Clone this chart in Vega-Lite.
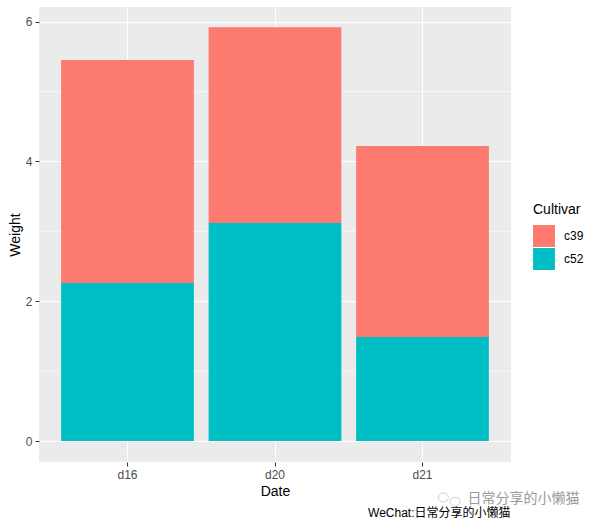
{
  "$schema": "https://vega.github.io/schema/vega-lite/v6.json",
  "width": 472,
  "height": 455,
  "padding": {"left": 39, "top": 7, "right": 87, "bottom": 64},
  "autosize": {"type": "none"},
  "background": "white",
  "view": {"fill": "#EBEBEB", "stroke": null},
  "config": {"font": "Liberation Sans, Noto Sans CJK SC"},
  "datasets": {
    "bars": [
      {"Date": "d16", "Cultivar": "c39", "Weight": 3.19},
      {"Date": "d16", "Cultivar": "c52", "Weight": 2.26},
      {"Date": "d20", "Cultivar": "c39", "Weight": 2.80},
      {"Date": "d20", "Cultivar": "c52", "Weight": 3.12},
      {"Date": "d21", "Cultivar": "c39", "Weight": 2.73},
      {"Date": "d21", "Cultivar": "c52", "Weight": 1.49}
    ],
    "minor": [{"y": 1}, {"y": 3}, {"y": 5}],
    "notes": [
      {"Date": "d21", "y": -1.03, "label": "WeChat:日常分享的小懒猫", "kind": "caption"},
      {"Date": "d21", "y": -0.83, "label": "日常分享的小懒猫", "kind": "mark"},
      {"Date": "d21", "y": -0.82, "label": "", "kind": "icon"}
    ]
  },
  "encoding": {
    "x": {
      "field": "Date",
      "type": "nominal",
      "scale": {"paddingInner": 0.1, "paddingOuter": 0.15},
      "axis": {
        "title": "Date", "titleFontSize": 14, "titleColor": "#000000", "titleFontWeight": "normal", "titlePadding": 4,
        "labelAngle": 0, "labelFontSize": 12, "labelColor": "#4D4D4D", "labelPadding": 3,
        "domain": false, "tickColor": "#333333", "tickSize": 4, "tickWidth": 1,
        "grid": true, "gridColor": "#FFFFFF", "gridWidth": 1
      }
    }
  },
  "layer": [
    {
      "data": {"name": "minor"},
      "mark": {"type": "rule", "color": "#FFFFFF", "strokeWidth": 0.6},
      "encoding": {
        "x": {"value": 0},
        "x2": {"value": 472},
        "y": {"field": "y", "type": "quantitative", "scale": {"domain": [-0.3, 6.21], "nice": false, "zero": false}}
      }
    },
    {
      "data": {"name": "bars"},
      "mark": {"type": "bar"},
      "encoding": {
        "y": {
          "field": "Weight", "type": "quantitative", "aggregate": "sum", "stack": "zero",
          "scale": {"domain": [-0.3, 6.21], "nice": false, "zero": false},
          "axis": {
            "title": "Weight", "titleFontSize": 14, "titleColor": "#000000", "titleFontWeight": "normal", "titlePadding": 3,
            "values": [0, 2, 4, 6], "format": "d",
            "labelFontSize": 12, "labelColor": "#4D4D4D", "labelPadding": 3,
            "domain": false, "tickColor": "#333333", "tickSize": 4, "tickWidth": 1,
            "grid": true, "gridColor": "#FFFFFF", "gridWidth": 1.1
          }
        },
        "order": {"field": "Cultivar", "sort": "descending"},
        "color": {
          "field": "Cultivar", "type": "nominal",
          "scale": {"domain": ["c39", "c52"], "range": ["#FC7A70", "#00BFC4"]},
          "legend": {
            "title": "Cultivar", "titleFontSize": 14, "titleColor": "#000000", "titleFontWeight": "normal", "titlePadding": 8,
            "labelFontSize": 12, "labelColor": "#000000", "labelOffset": 9,
            "symbolType": "square", "symbolSize": 480, "symbolStrokeWidth": 0, "symbolOpacity": 1,
            "orient": "none", "legendX": 494, "legendY": 196, "rowPadding": 1
          }
        }
      }
    },
    {
      "data": {"name": "notes"},
      "transform": [{"filter": "datum.kind === 'caption'"}],
      "mark": {"type": "text", "align": "right", "baseline": "middle", "fontSize": 12, "color": "#000000", "dx": 88},
      "encoding": {
        "y": {"field": "y", "type": "quantitative", "scale": {"domain": [-0.3, 6.21], "nice": false, "zero": false}},
        "text": {"field": "label"}
      }
    },
    {
      "data": {"name": "notes"},
      "transform": [{"filter": "datum.kind === 'mark'"}],
      "mark": {"type": "text", "align": "right", "baseline": "middle", "fontSize": 14, "color": "#9A9A9A", "dx": 157},
      "encoding": {
        "y": {"field": "y", "type": "quantitative", "scale": {"domain": [-0.3, 6.21], "nice": false, "zero": false}},
        "text": {"field": "label"}
      }
    },
    {
      "data": {"name": "notes"},
      "transform": [{"filter": "datum.kind === 'icon'"}],
      "mark": {
        "type": "point", "filled": false, "xOffset": 27, "stroke": "#CFCFCF", "strokeWidth": 1, "opacity": 1, "size": 500,
        "shape": "M-0.1,-0.1 A0.45,0.4 0 1 0 -0.95,0.1 A0.45,0.4 0 0 0 -0.1,-0.1 M0.95,0.3 A0.45,0.4 0 1 0 0.05,0.3 A0.45,0.4 0 1 0 0.95,0.3"
      },
      "encoding": {
        "y": {"field": "y", "type": "quantitative", "scale": {"domain": [-0.3, 6.21], "nice": false, "zero": false}}
      }
    }
  ],
  "resolve": {"axis": {"y": "shared"}}
}
